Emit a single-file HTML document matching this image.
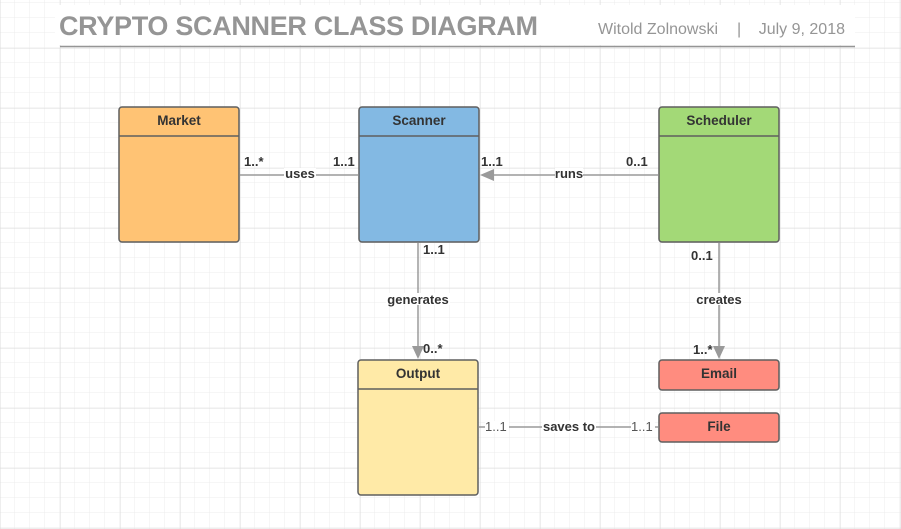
<!DOCTYPE html>
<html><head><style>
body{margin:0;background:#fff}
svg{display:block;font-family:"Liberation Sans",Arial,sans-serif}
</style></head><body>
<svg width="901" height="529" viewBox="0 0 901 529" xmlns="http://www.w3.org/2000/svg">
<defs>
<pattern id="minor" width="15" height="15" patternUnits="userSpaceOnUse" x="0" y="3">
<path d="M15 0V15M0 15H15" fill="none" stroke="#ececec" stroke-width="1"/>
</pattern>
<pattern id="major" width="60" height="60" patternUnits="userSpaceOnUse" x="0" y="48">
<path d="M0 0V60M0 0H60" fill="none" stroke="#dcdcdc" stroke-width="1"/>
</pattern>
</defs>
<rect width="901" height="529" fill="#fff"/>
<rect width="901" height="529" fill="url(#minor)"/>
<rect width="901" height="529" fill="url(#major)"/>
<rect x="55" y="5" width="800" height="40" fill="#fff"/>
<text x="59" y="35" font-size="27" font-weight="bold" fill="#959595" textLength="479">CRYPTO SCANNER CLASS DIAGRAM</text>
<text x="598" y="34" font-size="16" fill="#959595">Witold Zolnowski</text>
<text x="737" y="34" font-size="16" fill="#959595">|</text>
<text x="845" y="34" font-size="16" fill="#959595" text-anchor="end">July 9, 2018</text>
<line x1="60" y1="46.5" x2="855" y2="46.5" stroke="#959595" stroke-width="1.5"/>

<g stroke="#5f5f5f" stroke-width="1.5">
<rect x="119" y="107" width="120" height="135" rx="3" fill="#ffc374"/>
<line x1="119" y1="136" x2="239" y2="136"/>
<rect x="359" y="107" width="120" height="135" rx="3" fill="#83b9e3"/>
<line x1="359" y1="136" x2="479" y2="136"/>
<rect x="659" y="107" width="120" height="135" rx="3" fill="#a3d977"/>
<line x1="659" y1="136" x2="779" y2="136"/>
<rect x="358" y="360" width="120" height="135" rx="3" fill="#ffeaa7"/>
<line x1="358" y1="389" x2="478" y2="389"/>
<rect x="659" y="360" width="120" height="30" rx="3" fill="#ff8c7f"/>
<rect x="659" y="413" width="120" height="29" rx="3" fill="#ff8c7f"/>
</g>
<g font-size="13.5" font-weight="bold" fill="#333" text-anchor="middle">
<text x="179" y="125">Market</text>
<text x="419" y="125">Scanner</text>
<text x="719" y="125">Scheduler</text>
<text x="418" y="378">Output</text>
<text x="719" y="378">Email</text>
<text x="719" y="431">File</text>
</g>

<g stroke="#9a9a9a" stroke-width="1.5" fill="none">
<line x1="240" y1="175" x2="358" y2="175"/>
<line x1="490" y1="175" x2="658" y2="175"/>
<line x1="418" y1="243" x2="418" y2="348"/>
<line x1="719" y1="243" x2="719" y2="348"/>
<line x1="479" y1="427" x2="658" y2="427"/>
</g>
<g fill="#9a9a9a">
<polygon points="480,175 494,169 494,181"/>
<polygon points="418,359 412,346 424,346"/>
<polygon points="719,359 713,346 725,346"/>
</g>
<g font-size="13" font-weight="bold" fill="#333">
<rect x="284" y="168" width="32" height="12" fill="#fff"/>
<text x="300" y="178" text-anchor="middle">uses</text>
<rect x="555" y="168" width="28" height="12" fill="#fff"/>
<text x="569" y="178" text-anchor="middle">runs</text>
<rect x="386" y="293" width="64" height="12" fill="#fff"/>
<text x="418" y="304" text-anchor="middle">generates</text>
<rect x="695" y="293" width="48" height="12" fill="#fff"/>
<text x="719" y="304" text-anchor="middle">creates</text>
<rect x="542" y="421" width="54" height="12" fill="#fff"/>
<text x="569" y="431" text-anchor="middle">saves to</text>
<text x="244" y="166">1..*</text>
<text x="333" y="166">1..1</text>
<text x="481" y="166">1..1</text>
<text x="626" y="166">0..1</text>
<text x="423" y="254">1..1</text>
<text x="691" y="260">0..1</text>
<text x="423" y="353">0..*</text>
<text x="693" y="354">1..*</text>
</g>
<g font-size="13" fill="#555">
<rect x="485" y="421" width="24" height="12" fill="#fff"/>
<text x="485" y="431">1..1</text>
<rect x="631" y="421" width="24" height="12" fill="#fff"/>
<text x="631" y="431">1..1</text>
</g>
</svg>
</body></html>
